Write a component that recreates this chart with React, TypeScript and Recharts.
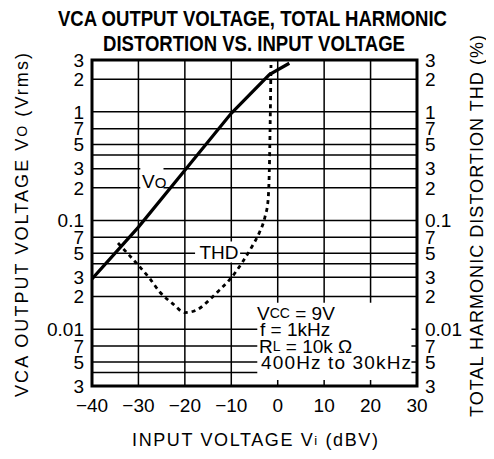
import React from "react";
import {
  LineChart,
  Line,
  XAxis,
  YAxis,
  CartesianGrid,
  ReferenceArea,
} from "recharts";

// ---- data ----
const xTicks = [-40, -30, -20, -10, 0, 10, 20, 30];
const xTickLabels = ["−40", "−30", "−20", "−10", "0", "10", "20", "30"];

const yTicks = [
  0.003, 0.004, 0.005, 0.007, 0.01, 0.02, 0.03, 0.04, 0.05, 0.07, 0.1, 0.2,
  0.3, 0.4, 0.5, 0.7, 1, 2, 3,
];
const yTickLabels = [
  "3", "", "5", "7", "0.01", "2", "3", "", "5", "7", "0.1", "2", "3", "", "5",
  "7", "1", "2", "3",
];

// Vo (Vrms) vs input (dBV)
const voInput = [-40, -30, -20, -10, -1.8, 2.5];
const voOutput = [0.029, 0.087, 0.29, 0.97, 2.2, 2.8];

// THD (%) vs input (dBV)
const thdInput = [
  -34.4, -32, -29.6, -27.5, -25.4, -22.5, -20, -17.5, -14.7, -12.5, -10.4,
  -7.5, -5.5, -4, -2.7, -2.1, -1.8, -1.45,
];
const thdValues = [
  0.062, 0.048, 0.037, 0.029, 0.022, 0.017, 0.0142, 0.015, 0.0186, 0.023,
  0.0284, 0.042, 0.058, 0.0765, 0.11, 0.15, 0.3, 2.7,
];

const voData = voInput.map((x, i) => ({ x, v: voOutput[i] }));
const thdData = thdInput.map((x, i) => ({ x, t: thdValues[i] }));

const FONT = "'Liberation Sans', Arial, Helvetica, sans-serif";
const W = 486;
const H = 451;

const xFmt = (v: number) => {
  const i = xTicks.indexOf(v);
  return i >= 0 ? xTickLabels[i] : "";
};
const yFmt = (v: number) => {
  const i = yTicks.findIndex((t) => Math.abs(t - v) < 1e-9);
  return i >= 0 ? yTickLabels[i] : "";
};

const tickStyle = { fill: "#000", fontSize: 19, fontFamily: FONT };

export default function App() {
  return (
    <div style={{ position: "relative", width: W, height: H }}>
      <LineChart
        width={W}
        height={H}
        margin={{ top: 52, right: 0, bottom: 0, left: 0 }}
      >
        <CartesianGrid
          yAxisId="left"
          stroke="#000"
          strokeWidth={1.5}
          strokeOpacity={1}
        />
        <XAxis
          dataKey="x"
          type="number"
          domain={[-40, 30]}
          ticks={xTicks}
          tickFormatter={xFmt}
          allowDataOverflow
          height={73}
          axisLine={false}
          tickLine={false}
          tickMargin={7}
          tick={tickStyle}
          interval={0}
        />
        <YAxis
          yAxisId="left"
          type="number"
          scale="log"
          domain={[0.003, 3]}
          ticks={yTicks}
          tickFormatter={yFmt}
          allowDataOverflow
          width={84}
          axisLine={false}
          tickLine={false}
          tick={tickStyle}
          interval={0}
        />
        <YAxis
          yAxisId="right"
          orientation="right"
          type="number"
          scale="log"
          domain={[0.003, 3]}
          ticks={yTicks}
          tickFormatter={yFmt}
          allowDataOverflow
          width={77}
          axisLine={false}
          tickLine={false}
          tick={{ ...tickStyle, textAnchor: "start" }}
          interval={0}
        />
        {/* white label backgrounds */}
        <ReferenceArea
          yAxisId="left"
          x1={-29.6}
          x2={-24.6}
          y1={0.19}
          y2={0.32}
          fill="#fff"
          fillOpacity={1}
          stroke="none"
        />
        <ReferenceArea
          yAxisId="left"
          x1={-17.8}
          x2={-8.1}
          y1={0.041}
          y2={0.064}
          fill="#fff"
          fillOpacity={1}
          stroke="none"
        />
        <ReferenceArea
          yAxisId="left"
          x1={-4.4}
          x2={28.8}
          y1={0.0034}
          y2={0.0175}
          fill="#fff"
          fillOpacity={1}
          stroke="none"
        />
        <Line
          yAxisId="left"
          data={voData}
          dataKey="v"
          type="linear"
          stroke="#000"
          strokeWidth={3.2}
          dot={false}
          isAnimationActive={false}
        />
        <Line
          yAxisId="right"
          data={thdData}
          dataKey="t"
          type="monotone"
          stroke="#000"
          strokeWidth={2.8}
          strokeDasharray="4 4"
          dot={false}
          isAnimationActive={false}
        />
        {/* frame */}
        <ReferenceArea
          yAxisId="left"
          x1={-40}
          x2={30}
          y1={0.003}
          y2={3}
          fill="none"
          stroke="#000"
          strokeWidth={3}
        />
      </LineChart>
      <svg
        width={W}
        height={H}
        style={{ position: "absolute", left: 0, top: 0, pointerEvents: "none" }}
        fontFamily={FONT}
      >
        <text
          x={244.5}
          y={18}
          textAnchor="middle"
          fontWeight="bold"
          fontSize={22}
          textLength={389}
          lengthAdjust="spacingAndGlyphs"
        >
          VCA OUTPUT VOLTAGE, TOTAL HARMONIC
        </text>
        <text
          x={246}
          y={43}
          textAnchor="middle"
          fontWeight="bold"
          fontSize={22}
          textLength={302}
          lengthAdjust="spacingAndGlyphs"
        >
          DISTORTION VS. INPUT VOLTAGE
        </text>
        <text
          x={14}
          y={217}
          transform="rotate(-90 14 217)"
          textAnchor="middle"
          dominantBaseline="central"
          fontSize={18}
          textLength={344}
          lengthAdjust="spacing"
        >
          VCA OUTPUT VOLTAGE V<tspan fontSize={14}>O</tspan> (Vrms)
        </text>
        <text
          x={469}
          y={218}
          transform="rotate(-90 469 218)"
          textAnchor="middle"
          dominantBaseline="central"
          fontSize={18}
          textLength={382}
          lengthAdjust="spacing"
        >
          TOTAL HARMONIC DISTORTION THD (%)
        </text>
        <text
          x={247}
          y={432}
          textAnchor="middle"
          dominantBaseline="central"
          fontSize={18}
          textLength={246}
          lengthAdjust="spacing"
        >
          INPUT VOLTAGE V<tspan fontSize={13}>i</tspan> (dBV)
        </text>
        <text x={134} y={180} fontSize={19}>
          V<tspan fontSize={15}>O</tspan>
        </text>
        <text
          x={211}
          y={244}
          textAnchor="middle"
          dominantBaseline="central"
          fontSize={19}
        >
          THD
        </text>
        <g fontSize={19} dominantBaseline="central">
          <text x={249} y={305}>
            V<tspan fontSize={14}>CC</tspan> = 9V
          </text>
          <text x={252} y={321}>f = 1kHz</text>
          <text x={251} y={338}>
            R<tspan fontSize={14}>L</tspan> = 10k Ω
          </text>
          <text x={253} y={354} textLength={150} lengthAdjust="spacing">
            400Hz to 30kHz
          </text>
        </g>
      </svg>
    </div>
  );
}
